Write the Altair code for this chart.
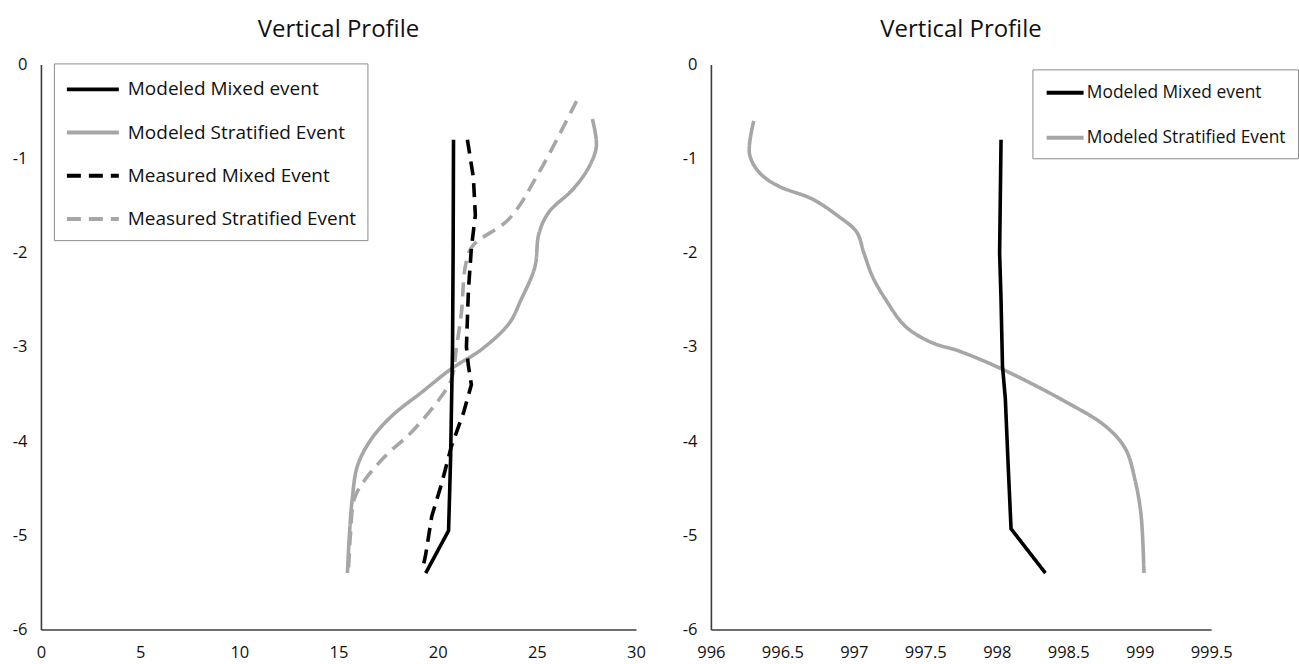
import altair as alt
import pandas as pd

# ---------------- data ----------------
# Left panel: temperature profiles
mod_mixed_T = [20.8, 20.78, 20.75, 20.7, 20.65, 20.55, 19.4]
mod_mixed_z = [-0.8, -2.0, -3.0, -3.6, -4.2, -4.95, -5.4]

mod_strat_T = [27.8, 28.0, 27.6, 26.8, 25.6, 25.1, 24.9, 24.2, 23.6, 22.25,
               20.7, 19.2, 17.7, 16.65, 15.96, 15.7, 15.55, 15.45]
mod_strat_z = [-0.58, -0.87, -1.1, -1.33, -1.57, -1.8, -2.15, -2.5, -2.75, -3.02,
               -3.23, -3.48, -3.73, -3.98, -4.26, -4.6, -5.0, -5.4]

meas_mixed_T = [21.5, 21.8, 21.9, 21.7, 21.55, 21.45, 21.55, 21.7, 21.3, 20.7,
                20.2, 19.7, 19.4, 19.3]
meas_mixed_z = [-0.8, -1.2, -1.6, -1.95, -2.4, -3.0, -3.2, -3.4, -3.7, -4.05,
                -4.45, -4.8, -5.2, -5.3]

meas_strat_T = [27.0, 25.1, 23.6, 21.75, 21.4, 21.2, 20.95, 20.7, 20.1, 18.7,
                17.4, 16.3, 15.8, 15.6, 15.5]
meas_strat_z = [-0.39, -1.15, -1.64, -1.93, -2.14, -2.63, -3.0, -3.34, -3.55, -3.9,
                -4.15, -4.42, -4.61, -5.0, -5.4]

# Right panel: density profiles
r_mixed_rho = [998.03, 998.02, 998.03, 998.04, 998.06, 998.08, 998.10, 998.34]
r_mixed_z = [-0.8, -2.0, -2.5, -3.2, -3.55, -4.26, -4.93, -5.4]

r_strat_rho = [996.30, 996.27, 996.34, 996.47, 996.71, 996.89, 997.02, 997.07,
               997.13, 997.22, 997.36, 997.54, 997.73, 998.03, 998.48, 998.76,
               998.90, 998.97, 999.01, 999.03]
r_strat_z = [-0.6, -0.95, -1.15, -1.29, -1.43, -1.61, -1.78, -2.0,
             -2.25, -2.49, -2.78, -2.95, -3.04, -3.23, -3.58, -3.84,
             -4.08, -4.43, -4.79, -5.4]

left_names = ["Modeled Mixed event", "Modeled Stratified Event",
              "Measured Mixed Event", "Measured Stratified Event"]
right_names = ["Modeled Mixed event", "Modeled Stratified Event"]

x_ticks_left = [0, 5, 10, 15, 20, 25, 30]
x_ticks_right = [996, 996.5, 997, 997.5, 998, 998.5, 999, 999.5]
y_ticks = [-6, -5, -4, -3, -2, -1, 0]

BLACK = "#000000"
GRAY = "#a6a6a6"
FONT = "Open Sans"


def frame(name, xs, zs, smooth):
    return pd.DataFrame({"series": name, "x": xs, "depth": zs,
                         "i": list(range(len(xs))), "smooth": smooth})


left_df = pd.concat([
    frame(left_names[0], mod_mixed_T, mod_mixed_z, 0),
    frame(left_names[1], mod_strat_T, mod_strat_z, 1),
    frame(left_names[2], meas_mixed_T, meas_mixed_z, 0),
    frame(left_names[3], meas_strat_T, meas_strat_z, 1),
], ignore_index=True)

right_df = pd.concat([
    frame(right_names[0], r_mixed_rho, r_mixed_z, 0),
    frame(right_names[1], r_strat_rho, r_strat_z, 1),
], ignore_index=True)


def axis_common(**kw):
    return alt.Axis(title=None, ticks=False, grid=False, labelFlush=False,
                    domainColor="#3c3c3c", domainWidth=1.6,
                    labelColor="#111111", labelFont=FONT, labelFontSize=16.5,
                    labelExpr="'' + datum.value", **kw)


def panel(df, names, colors, dashes, xdom, xticks, width, legend):
    color = alt.Color("series:N", scale=alt.Scale(domain=names, range=colors),
                      legend=legend)
    dash = alt.StrokeDash("series:N", scale=alt.Scale(domain=names, range=dashes),
                          legend=legend)
    x = alt.X("x:Q", scale=alt.Scale(domain=xdom, nice=False, zero=False),
              axis=axis_common(values=xticks, labelPadding=15))
    y = alt.Y("depth:Q", scale=alt.Scale(domain=[-6, 0], nice=False, zero=False),
              axis=axis_common(values=y_ticks, labelPadding=14))
    base = alt.Chart(df).encode(x=x, y=y, color=color, strokeDash=dash,
                                order=alt.Order("i:Q"))
    lin = base.transform_filter("datum.smooth == 0").mark_line(
        strokeWidth=3.6, interpolate="linear", strokeCap="butt")
    smo = base.transform_filter("datum.smooth == 1").mark_line(
        strokeWidth=3.6, interpolate="catmull-rom", strokeCap="butt")
    return alt.layer(smo, lin).properties(
        width=width, height=566,
        title=alt.TitleParams("Vertical Profile", font=FONT, fontSize=24,
                              fontWeight="normal", color="#111111",
                              anchor="middle", offset=14),
    )


# custom stroke symbols: path from -1 to 3 (scaled by sqrt(size)/2)
left_legend = alt.Legend(title=None, orient="none", legendX=13, legendY=-1,
                         strokeColor="#8c8c8c", fillColor="white", padding=11,
                         symbolType="M-1,0H3", symbolSize=676,
                         symbolStrokeWidth=4, labelFont=FONT, labelFontSize=19,
                         labelColor="#111111", labelOffset=33, rowPadding=18.3,
                         labelLimit=400)
right_legend = alt.Legend(title=None, orient="none", legendX=322, legendY=5,
                          strokeColor="#8c8c8c", fillColor="white", padding=12,
                          symbolType="M-1,0H3", symbolSize=342,
                          symbolStrokeWidth=4, labelFont=FONT,
                          labelFontSize=17.4, labelColor="#111111",
                          labelOffset=19.5, rowPadding=25, labelLimit=400)

left = panel(left_df, left_names, [BLACK, GRAY, BLACK, GRAY],
             [[1, 0], [1, 0], [14, 8], [14, 8]], [0, 30], x_ticks_left,
             596, left_legend)
right = panel(right_df, right_names, [BLACK, GRAY], [[1, 0], [1, 0]],
              [996, 999.5], x_ticks_right, 501, right_legend)

chart = alt.hconcat(left, right, spacing=75).resolve_scale(
    x="independent", y="independent", color="independent",
    strokeDash="independent").resolve_legend(
    color="independent", strokeDash="independent").properties(
    bounds="flush",
    padding={"left": 12, "top": 18, "right": 0, "bottom": 0},
).configure(background="white").configure_view(strokeWidth=0, stroke="transparent")

chart.save("out.html", embed_options={"renderer": "svg", "actions": False})
